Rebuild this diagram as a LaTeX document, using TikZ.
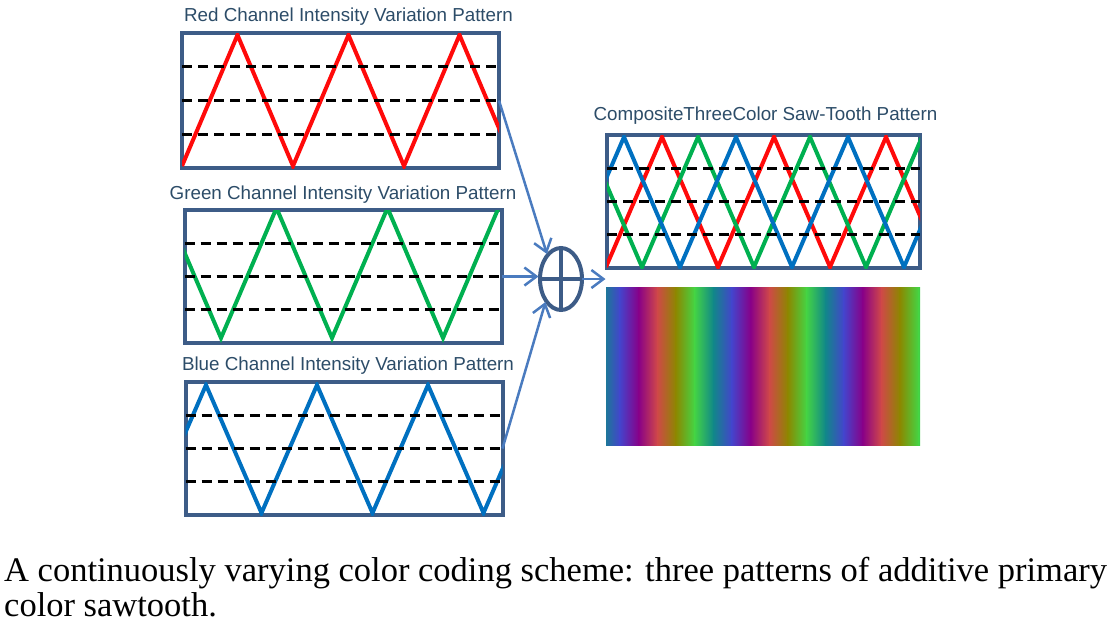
\documentclass[tikz,border=0pt]{standalone}
\usepackage{fontspec}
\setmainfont{Liberation Serif}
\setsansfont{Liberation Sans}
\usepackage{tikz}
\usetikzlibrary{positioning}
\usetikzlibrary{calc}
\usetikzlibrary{shapes.geometric}
\usetikzlibrary{arrows.meta}

\definecolor{frameblue}{RGB}{61,92,135}
\definecolor{titleblue}{RGB}{44,76,104}
\definecolor{arrowblue}{RGB}{74,123,191}
\definecolor{wred}{RGB}{255,10,10}
\definecolor{wgreen}{RGB}{0,176,80}
\definecolor{wblue}{RGB}{0,112,192}
\definecolor{gteal}{RGB}{16,136,136}
\definecolor{gblue}{RGB}{68,68,204}
\definecolor{gpurple}{RGB}{136,0,136}
\definecolor{gred}{RGB}{208,72,72}
\definecolor{golive}{RGB}{140,136,0}
\definecolor{ggreen}{RGB}{68,212,68}

\tikzset{
    panel/.style={draw=frameblue, line width=4pt, minimum width=317pt, minimum height=133pt, inner sep=0pt, outer sep=0pt},
    ptitle/.style={text=titleblue, font=\sffamily\fontsize{18.8}{20}\selectfont, inner sep=0pt},
    wave/.style={line width=4pt, line join=miter},
    dashline/.style={black, line width=3pt, dash pattern=on 10pt off 6pt},
    sumnode/.style={ellipse, draw=frameblue, line width=4pt, minimum width=42pt, minimum height=62pt, inner sep=0pt, outer sep=0pt},
    feed/.style={draw=arrowblue, line width=2.5pt, shorten >=1.5pt, -{Straight Barb[length=12pt,width=18pt]}},
    caption/.style={align=left, inner sep=0pt, font=\fontsize{34.5}{35}\selectfont}
}

\begin{document}
\begin{tikzpicture}[x=1pt, y=-1pt]
    \useasboundingbox (0,0) rectangle (1112,622);

    \node [panel, minimum height=135pt] (red) at (340.5,100.5) {};
    \node [panel] (green) at (343,276.5) {};
    \node [panel] (blue) at (344,448.5) {};
    \node [panel, minimum width=313pt] (comp) at (763.5,201.5) {};

    \node [ptitle, above=7pt of red, xshift=8pt] (tred) {Red Channel Intensity Variation Pattern};
    \node [ptitle, above=6pt of green] (tgreen) {Green Channel Intensity Variation Pattern};
    \node [ptitle, above=7pt of blue, xshift=4pt] (tblue) {Blue Channel Intensity Variation Pattern};
    \node [ptitle, above=10pt of comp, xshift=2pt] (tcomp) {CompositeThreeColor Saw-Tooth Pattern};

    % single channels
    \begin{scope}
        \clip (red.south west) rectangle (red.north east);
        \draw [wave, wred] (182,166) \foreach \k in {1,2,3} { -- ++(55.5,-131) -- ++(55.5,131) };
    \end{scope}
    \begin{scope}
        \clip (green.south west) rectangle (green.north east);
        \draw [wave, wgreen] (165.5,208) \foreach \k in {1,2,3} { -- ++(55.5,130) -- ++(55.5,-130) };
    \end{scope}
    \begin{scope}
        \clip (blue.south west) rectangle (blue.north east);
        \draw [wave, wblue] (150.5,513) \foreach \k in {1,...,4} { -- ++(55.5,-128) -- ++(55.5,128) };
    \end{scope}

    % composite
    \begin{scope}
        \clip (comp.south west) rectangle (comp.north east);
        \draw [wave, wred] (606,267) \foreach \k in {1,2,3} { -- ++(56,-130) -- ++(56,130) };
        \draw [wave, wgreen] (530,267) \foreach \k in {1,...,4} { -- ++(56,-130) -- ++(56,130) };
        \draw [wave, wblue] (568,267) \foreach \k in {1,...,4} { -- ++(56,-130) -- ++(56,130) };
    \end{scope}

    \foreach \p in {red,green,blue,comp}
        \foreach \f in {0.25,0.5,0.75}
            \draw [dashline] ($(\p.north west)!\f!(\p.south west)$) -- ($(\p.north east)!\f!(\p.south east)$);

    % colour strip
    \begin{scope}
        \clip (606,287) rectangle (920,445);
        \foreach \k in {0,1,2}
            \foreach \a/\b [count=\j from 0] in {gteal/gblue, gblue/gpurple, gpurple/gred, gred/golive, golive/ggreen, ggreen/gteal}
                \shade [left color=\a, right color=\b] ({601+112*\k+18.667*\j},287) rectangle ({601+112*\k+18.667*(\j+1)+0.5},445);
    \end{scope}

    \node [sumnode] (sum) at (561,279) {};
    \draw [frameblue, line width=4pt] (sum.north) -- (sum.south) (sum.west) -- (sum.east);

    \draw [feed] (red.east) -- (sum.120);
    \draw [feed] (green.east) -- (green.east -| sum.west);
    \draw [feed] (blue.east) -- (sum.235);
    \draw [feed] (sum.east) -- (sum.east -| comp.west);

    \node [caption, anchor=north west] (cap) at (4,556.5) {A continuously varying color coding scheme: three patterns of additive primary\\color sawtooth.};
\end{tikzpicture}
\end{document}
